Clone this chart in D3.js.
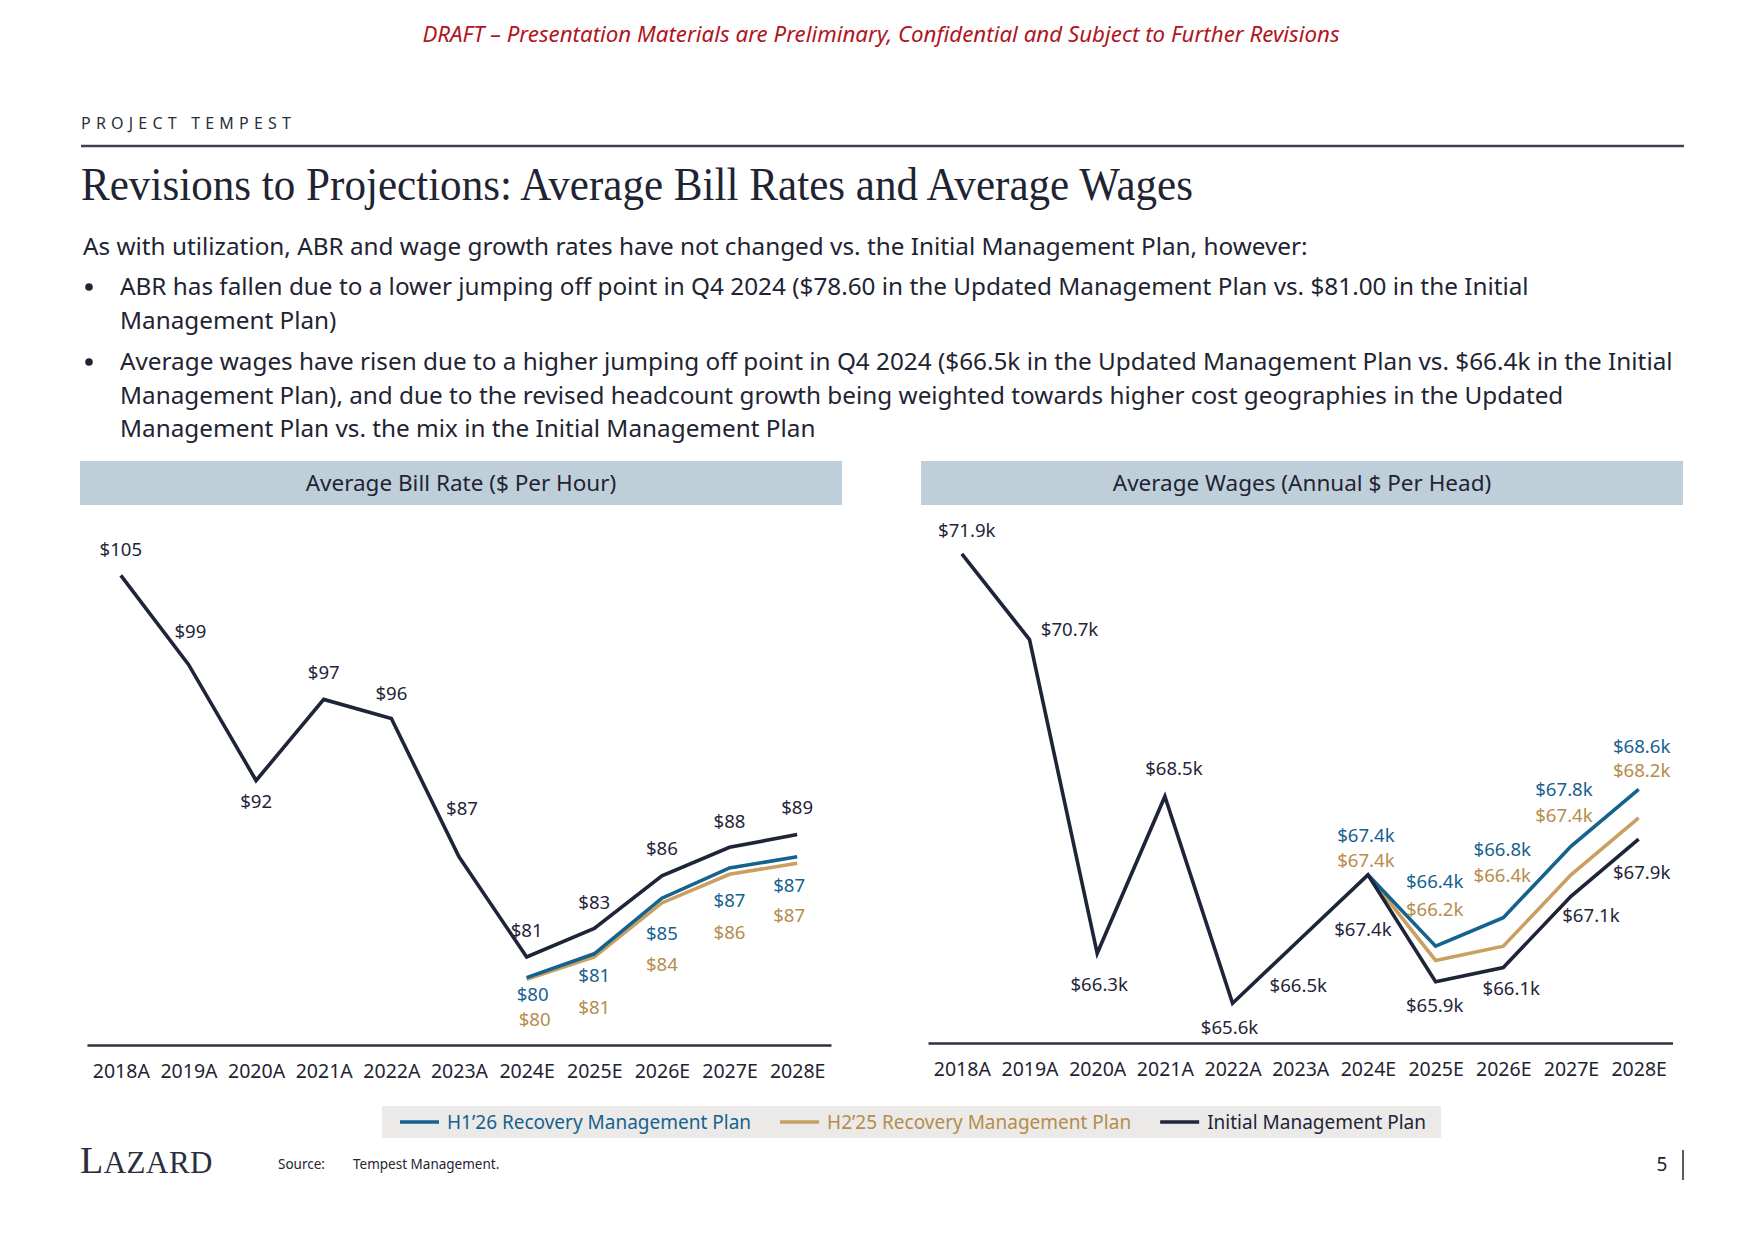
<!DOCTYPE html>
<html>
<head>
<meta charset="utf-8">
<script src="https://cdn.jsdelivr.net/npm/d3@7"></script>
<style>
  body { margin: 0; background: #fff; }
  svg text { font-family: "Noto Sans", sans-serif; }
</style>
</head>
<body>
<div class="canvas"></div>
<script>
// ---- data ----
const years = ['2018A', '2019A', '2020A', '2021A', '2022A', '2023A', '2024E', '2025E', '2026E', '2027E', '2028E'];
const forecastYears = ['2024E', '2025E', '2026E', '2027E', '2028E'];

// average bill rate, $ per hour
const abrInitial = [105.0, 99.4, 92.1, 97.2, 96.0, 87.3, 81.0, 82.8, 86.1, 87.9, 88.7];
const abrH126 = [79.7, 81.2, 84.7, 86.6, 87.3];
const abrH225 = [79.6, 81.0, 84.4, 86.2, 86.9];

// average wages, annual $k per head
const wageInitial = [71.9, 70.7, 66.3, 68.5, 65.6, 66.5, 67.4, 65.9, 66.1, 67.1, 67.9];
const wageH126 = [67.4, 66.4, 66.8, 67.8, 68.6];
const wageH225 = [67.4, 66.2, 66.4, 67.4, 68.2];

const seriesNames = ['H1\u201926 Recovery Management Plan', 'H2\u201925 Recovery Management Plan', 'Initial Management Plan'];

const bullets = [
  ['ABR has fallen due to a lower jumping off point in Q4 2024 ($78.60 in the Updated Management Plan vs. $81.00 in the Initial',
   'Management Plan)'],
  ['Average wages have risen due to a higher jumping off point in Q4 2024 ($66.5k in the Updated Management Plan vs. $66.4k in the Initial',
   'Management Plan), and due to the revised headcount growth being weighted towards higher cost geographies in the Updated',
   'Management Plan vs. the mix in the Initial Management Plan']
];

// ---- styling ----
const colors = { h126: '#14628e', h225: '#c9a061', initial: '#1f2538' };
const textColors = { h126: '#16628f', h225: '#b68c4c', initial: '#1f2538' };
const ink = '#1f2433';

// hand placement of data labels (offset from the point), like in the deck
const abrLabelPos = {
  initial: [[0, -26], [2, -33], [0, 21], [0, -27], [0, -25], [3, -48], [0, -27], [0, -26], [0, -27], [0, -26], [0, -27]],
  h126: [[6, 17], [0, 22], [0, 35], [0, 33], [-8, 29]],
  h225: [[8, 40], [0, 50], [0, 62], [0, 58], [-8, 52]]
};
const wageLabelPos = {
  initial: [[5, -23], [40, -10], [2, 31], [9, -28], [-3, 24], [-2, 46], [-5, 55], [-1, 24], [8, 21], [20, 19], [3, 33]],
  h126: [[-2, -39], [-1, -65], [-1, -68], [-7, -57], [3, -43]],
  h225: [[-2, -14], [-1, -51], [-1, -71], [-7, -59], [3, -47]]
};

const svg = d3.select('.canvas')
  .append('svg')
  .attr('width', 1755)
  .attr('height', 1241)
  .style('display', 'block');

// ---- page header ----
svg.append('text')
  .attr('x', 881).attr('y', 42)
  .attr('text-anchor', 'middle')
  .attr('fill', '#b0161e')
  .style('font-style', 'italic')
  .style('font-size', '22.3px')
  .text('DRAFT \u2013 Presentation Materials are Preliminary, Confidential and Subject to Further Revisions');

svg.append('text')
  .attr('x', 81).attr('y', 129)
  .attr('fill', '#2a2e3a')
  .style('font-size', '16px')
  .style('letter-spacing', '5.2px')
  .text('PROJECT TEMPEST');

svg.append('line')
  .attr('x1', 81).attr('x2', 1684)
  .attr('y1', 146).attr('y2', 146)
  .attr('stroke', '#3e424d')
  .attr('stroke-width', 2.5);

const title = svg.append('text')
  .attr('x', 81).attr('y', 200)
  .attr('fill', ink)
  .style('font-family', '"Liberation Serif", "DejaVu Serif", serif')
  .style('font-size', '46px')
  .text('Revisions to Projections: Average Bill Rates and Average Wages');
if (title.node().getComputedTextLength() > 1112) {
  title.attr('textLength', 1112).attr('lengthAdjust', 'spacingAndGlyphs');
}

// ---- commentary ----
const body = svg.append('g').attr('fill', ink).style('font-size', '24.3px');
body.append('text')
  .attr('x', 83).attr('y', 255)
  .text('As with utilization, ABR and wage growth rates have not changed vs. the Initial Management Plan, however:');

const bulletTop = [295, 370];
bullets.forEach((lines, i) => {
  body.append('circle')
    .attr('cx', 89).attr('cy', bulletTop[i] - 8)
    .attr('r', 3.8);
  lines.forEach((line, j) => {
    body.append('text')
      .attr('x', 120)
      .attr('y', bulletTop[i] + j * 33.5)
      .text(line);
  });
});

// ---- charts ----
function drawChart(opts) {
  const g = svg.append('g');

  g.append('rect')
    .attr('x', opts.left).attr('y', 461)
    .attr('width', opts.width).attr('height', 44)
    .attr('fill', '#bfcfda');
  g.append('text')
    .attr('x', opts.left + opts.width / 2).attr('y', 491)
    .attr('text-anchor', 'middle')
    .attr('fill', ink)
    .style('font-size', '22.5px')
    .text(opts.title);

  const x = d3.scalePoint()
    .domain(years)
    .range(opts.xRange)
    .padding(0.5);

  const y = d3.scaleLinear()
    .domain(opts.yDomain)
    .range(opts.yRange);

  const axis = g.append('g')
    .attr('transform', `translate(0, ${opts.axisY})`)
    .call(d3.axisBottom(x).tickSize(0).tickSizeOuter(0).tickPadding(19));
  axis.select('.domain')
    .attr('stroke', '#2b3142')
    .attr('stroke-width', 2.5);
  axis.selectAll('text')
    .attr('fill', ink)
    .style('font-family', '"Noto Sans", sans-serif')
    .style('font-size', '19.5px');

  const line = d3.line()
    .x(d => x(d.year))
    .y(d => y(d.value));

  const series = [
    { key: 'h225', years: forecastYears, values: opts.h225 },
    { key: 'h126', years: forecastYears, values: opts.h126 },
    { key: 'initial', years: years, values: opts.initial }
  ];

  series.forEach(s => {
    const pts = s.values.map((v, i) => ({ year: s.years[i], value: v }));
    g.append('path')
      .datum(pts)
      .attr('d', line)
      .attr('fill', 'none')
      .attr('stroke', colors[s.key])
      .attr('stroke-width', 3.6)
      .attr('stroke-linejoin', 'miter');
  });

  // labels drawn after all lines
  series.forEach(s => {
    const pts = s.values.map((v, i) => ({ year: s.years[i], value: v }));
    g.selectAll(null)
      .data(pts)
      .join('text')
      .attr('x', (d, i) => x(d.year) + opts.labelPos[s.key][i][0])
      .attr('y', (d, i) => y(d.value) + opts.labelPos[s.key][i][1])
      .attr('dy', '0.35em')
      .attr('text-anchor', 'middle')
      .attr('fill', textColors[s.key])
      .style('font-size', '18.6px')
      .text(d => opts.format(d.value));
  });
}

drawChart({
  title: 'Average Bill Rate ($ Per Hour)',
  left: 80, width: 762,
  xRange: [87, 831],
  yDomain: [75, 110], yRange: [1052.4, 495.9],
  axisY: 1045,
  initial: abrInitial, h126: abrH126, h225: abrH225,
  labelPos: abrLabelPos,
  format: v => '$' + d3.format('.0f')(v)
});

drawChart({
  title: 'Average Wages (Annual $ Per Head)',
  left: 921, width: 762,
  xRange: [928, 1672.5],
  yDomain: [65, 72.5], yRange: [1046, 511.2],
  axisY: 1043,
  initial: wageInitial, h126: wageH126, h225: wageH225,
  labelPos: wageLabelPos,
  format: v => '$' + d3.format('.1f')(v) + 'k'
});

// ---- legend ----
const legend = svg.append('g');
const legendBg = legend.append('rect')
  .attr('y', 1106).attr('height', 32)
  .attr('fill', '#ebeae8');
const legendKeys = ['h126', 'h225', 'initial'];
let lx = 400;
legendKeys.forEach((k, i) => {
  legend.append('line')
    .attr('x1', lx).attr('x2', lx + 39)
    .attr('y1', 1122).attr('y2', 1122)
    .attr('stroke', colors[k])
    .attr('stroke-width', 3.6);
  const t = legend.append('text')
    .attr('x', lx + 47).attr('y', 1122)
    .attr('dy', '0.35em')
    .attr('fill', textColors[k])
    .style('font-size', '19px')
    .text(seriesNames[i]);
  lx += 47 + t.node().getComputedTextLength() + 29;
});
legendBg.attr('x', 382).attr('width', lx - 29 + 15 - 382);

// ---- footer ----
const logo = svg.append('text')
  .attr('x', 80).attr('y', 1173)
  .attr('fill', '#2a2f40')
  .style('font-family', '"Liberation Serif", serif')
  .style('letter-spacing', '0.5px');
logo.append('tspan').style('font-size', '38px').text('L');
logo.append('tspan').style('font-size', '31px').text('AZARD');

svg.append('text')
  .attr('x', 278).attr('y', 1169)
  .attr('fill', ink)
  .style('font-size', '13.5px')
  .text('Source:');
svg.append('text')
  .attr('x', 353).attr('y', 1169)
  .attr('fill', ink)
  .style('font-size', '13.5px')
  .text('Tempest Management.');

svg.append('text')
  .attr('x', 1662).attr('y', 1171)
  .attr('text-anchor', 'middle')
  .attr('fill', ink)
  .style('font-size', '19px')
  .text('5');
svg.append('line')
  .attr('x1', 1683).attr('x2', 1683)
  .attr('y1', 1150).attr('y2', 1180)
  .attr('stroke', ink)
  .attr('stroke-width', 1.5);
</script>
</body>
</html>
